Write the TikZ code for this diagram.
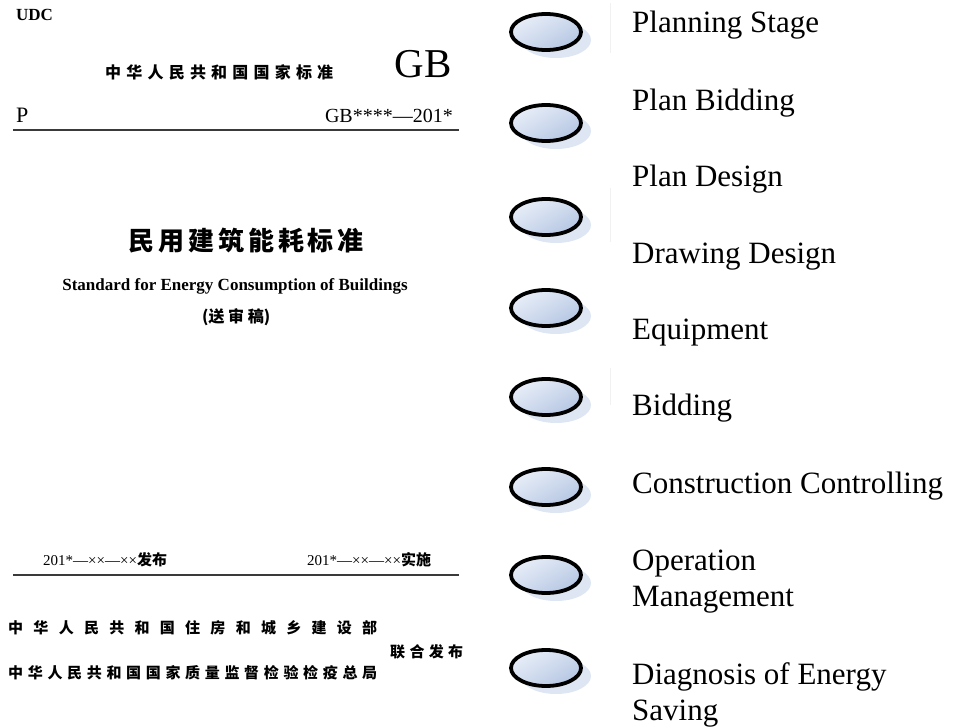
\documentclass[tikz,border=0pt]{standalone}
\usepackage{fontspec}
\setmainfont{Liberation Serif}
\newfontfamily\cjk{Noto Sans CJK SC}
\usetikzlibrary{shapes.geometric,shadows}
\definecolor{ellA}{HTML}{E8EEF8}
\definecolor{ellB}{HTML}{B6C7E3}
\definecolor{shad}{HTML}{DDE6F2}
\definecolor{rulec}{HTML}{3A3A3A}
\definecolor{faint}{HTML}{F1F1F1}
\tikzset{
  stage/.style={ellipse, draw=black, line width=3.8pt, minimum width=70pt,
    minimum height=36pt, inner sep=0pt, top color=ellA, bottom color=ellB,
    shading angle=30,
    drop shadow={shadow xshift=10pt, shadow yshift=-8pt, fill=shad, opacity=1}},
  lbl/.style={anchor=base west, inner sep=0pt, align=left,
    font=\fontsize{31}{36}\selectfont},
  cjkt/.style={anchor=west, inner sep=0pt, font=\cjk\bfseries\fontsize{#1}{#1}\selectfont},
  cjkr/.style={anchor=west, inner sep=0pt, font=\cjk\fontsize{#1}{#1}\selectfont},
  sertxt/.style={inner sep=0pt, font=\fontsize{#1}{#1}\selectfont},
  rulel/.style={draw=rulec, line width=1.6pt}
}
\begin{document}
\begin{tikzpicture}[x=1pt,y=-1pt]
\useasboundingbox (0,0) rectangle (953,728);
% ---------- left: standard cover ----------
\node[sertxt=17, anchor=base west, font=\bfseries\fontsize{17}{17}\selectfont] (udc) at (16,20) {UDC};
\node[cjkt=16] (hdr) at (105,72.5) {\makebox[228pt][s]{中 华 人 民 共 和 国 国 家 标 准}};
\node[sertxt=41, anchor=base east] (gb) at (452,77) {GB};
\node[sertxt=22, anchor=base west] (p) at (16,122) {P};
\node[sertxt=20, anchor=base east] (gbno) at (453,122) {GB****—201*};
\coordinate (r1a) at (13,130);
\coordinate (r1b) at (459,130);
\draw[rulel] (r1a) -- (r1b);
\node[cjkr=26, font=\cjk\fontsize{26}{26}\selectfont\bfseries] (title) at (128,241) {\makebox[219pt][s]{民 用 建 筑 能 耗 标 准}};
\node[sertxt=17, anchor=base, font=\bfseries\fontsize{17}{17}\selectfont] (entitle) at (235,290) {Standard for Energy Consumption of Buildings};
\node[cjkt=16] (draft) at (202,317) {\makebox[68pt][s]{(送 审 稿)}};
\node[sertxt=15, anchor=west] (pub) at (43,560) {201*—××—××{\cjk\bfseries 发布}};
\node[sertxt=15, anchor=west] (impl) at (307,560) {201*—××—××{\cjk\bfseries 实施}};
\coordinate (r2a) at (13,575);
\coordinate (r2b) at (459,575);
\draw[rulel] (r2a) -- (r2b);
\node[cjkt=15] (org1) at (8,628) {\makebox[369pt][s]{中 华 人 民 共 和 国 住 房 和 城 乡 建 设 部}};
\node[cjkt=15] (joint) at (390,652) {\makebox[73pt][s]{联 合 发 布}};
\node[cjkt=15] (org2) at (8,673) {\makebox[369pt][s]{中 华 人 民 共 和 国 国 家 质 量 监 督 检 验 检 疫 总 局}};
% ---------- faint artefact lines ----------
\coordinate (fa1) at (610,3);   \coordinate (fb1) at (610,53);
\coordinate (fa2) at (610,188); \coordinate (fb2) at (610,242);
\coordinate (fa3) at (610,368); \coordinate (fb3) at (610,405);
\draw[faint, line width=0.8pt] (fa1) -- (fb1) (fa2) -- (fb2) (fa3) -- (fb3);
% ---------- right: stages ----------
\node[stage] (e1) at (546,32) {};
\node[stage] (e2) at (546,123) {};
\node[stage] (e3) at (546,217) {};
\node[stage] (e4) at (546,308) {};
\node[stage] (e5) at (546,397) {};
\node[stage] (e6) at (546,487) {};
\node[stage] (e7) at (546,575) {};
\node[stage] (e8) at (546,668) {};
\node[lbl] (t1) at (632,32) {Planning Stage};
\node[lbl] (t2) at (632,110) {Plan Bidding};
\node[lbl] (t3) at (632,186) {Plan Design};
\node[lbl] (t4) at (632,263) {Drawing Design};
\node[lbl] (t5) at (632,339) {Equipment};
\node[lbl] (t6) at (632,415) {Bidding};
\node[lbl] (t7) at (632,493) {Construction Controlling};
\node[lbl] (t8) at (632,606) {Operation\\Management};
\node[lbl] (t9) at (632,720) {Diagnosis of Energy\\Saving};
\end{tikzpicture}
\end{document}
